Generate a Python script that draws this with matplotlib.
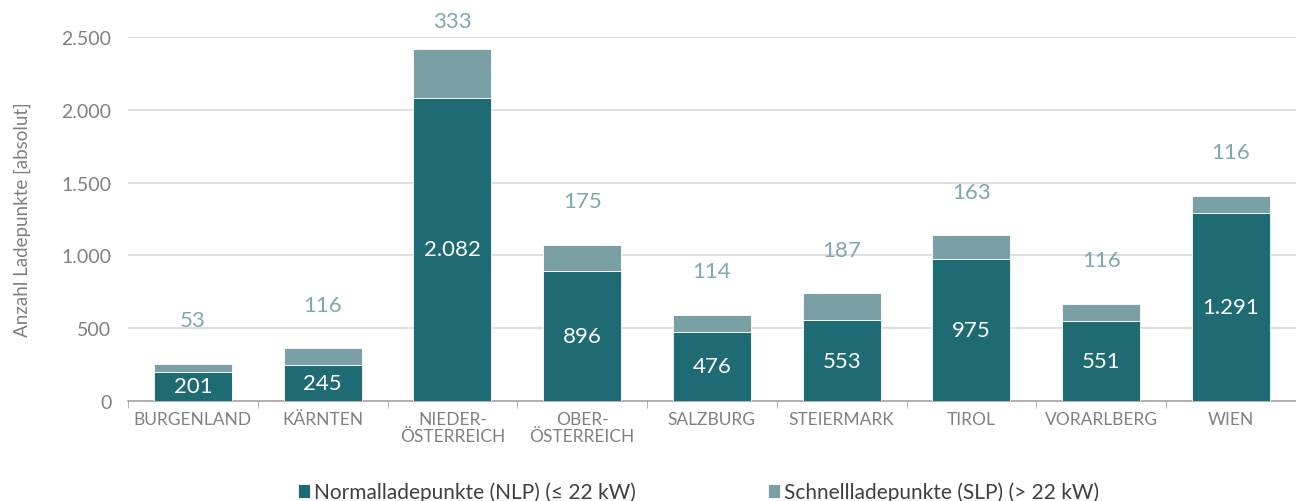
import matplotlib
matplotlib.use('Agg')
import matplotlib.pyplot as plt
from matplotlib.ticker import FuncFormatter, FixedLocator
import numpy as np

plt.rcParams['font.family'] = ['Lato', 'DejaVu Sans']

# data
regions = ['BURGENLAND', 'KÄRNTEN', 'NIEDER-\nÖSTERREICH', 'OBER-\nÖSTERREICH', 'SALZBURG',
           'STEIERMARK', 'TIROL', 'VORARLBERG', 'WIEN']
nlp = [201, 245, 2082, 896, 476, 553, 975, 551, 1291]
slp = [53, 116, 333, 175, 114, 187, 163, 116, 116]
legend_labels = ['Normalladepunkte (NLP) (≤ 22 kW)', 'Schnellladepunkte (SLP) (> 22 kW)']

dark = '#1f6b73'
light = '#7aa0a6'
grey = '#808080'

fig = plt.figure(figsize=(12.96, 5.02), dpi=100)
ax = fig.add_axes([0.0988, 0.1992, 0.901, 0.7251])

x = np.arange(len(regions))
b1 = ax.bar(x, nlp, width=0.6, color=dark, edgecolor='white', linewidth=0.6, zorder=3, label=legend_labels[0])
b2 = ax.bar(x, slp, width=0.6, bottom=nlp, color=light, edgecolor='white', linewidth=0.6, zorder=3, label=legend_labels[1])

# labels inside the dark segment
for xi, v in zip(x, nlp):
    ax.text(xi, v / 2, f'{v:,}'.replace(',', '.'), ha='center', va='center',
            color='white', fontsize=16, zorder=4)
# labels above the stack (kept below the top edge of the figure)
for xi, a, b in zip(x, nlp, slp):
    ax.text(xi, min(a + b + 300, 2610), str(b), ha='center', va='center',
            color='#7fa8ae', fontsize=16, clip_on=False)

ax.set_xlim(-0.5, len(regions) - 0.5)
ax.set_ylim(0, 2500)
ax.set_yticks(range(0, 2501, 500))
ax.yaxis.set_major_formatter(FuncFormatter(lambda v, p: f'{int(v):,}'.replace(',', '.')))
ax.grid(axis='y', color='#d9d9d9', linewidth=1.2, zorder=0)

ax.set_xticks(x)
ax.set_xticklabels(regions, color=grey, fontsize=12.5, linespacing=1.1)
ax.xaxis.set_minor_locator(FixedLocator(np.arange(-0.5, len(regions), 1.0)))
ax.tick_params(axis='x', which='major', length=0, pad=7)
ax.tick_params(axis='x', which='minor', length=5, color='#a6a6a6', direction='out')
ax.tick_params(axis='y', length=0, labelsize=14, labelcolor=grey, pad=12)

for s in ['top', 'right', 'left']:
    ax.spines[s].set_visible(False)
ax.spines['bottom'].set_color('#a6a6a6')
ax.spines['bottom'].set_linewidth(1.2)

ax.set_ylabel('Anzahl Ladepunkte [absolut]', color=grey, fontsize=13.5, labelpad=22)

fig.legend(handles=[b1, b2], loc='lower center', bbox_to_anchor=(0.539, -0.04), ncol=2,
           frameon=False, fontsize=15, handlelength=0.6, handleheight=0.6,
           handletextpad=0.2, columnspacing=6.3, labelcolor='#404040')

fig.savefig('out.png', dpi=100)
